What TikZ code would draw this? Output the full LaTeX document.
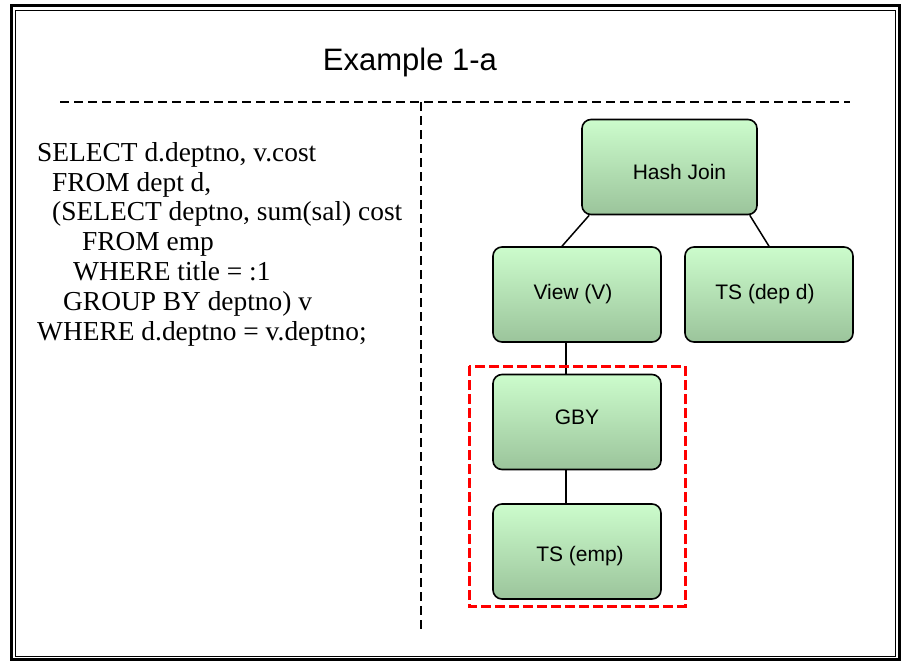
\documentclass[tikz,border=0pt]{standalone}
\usepackage{fontspec}
\setmainfont{Liberation Serif}
\setsansfont{Liberation Sans}

\definecolor{boxtop}{RGB}{204,252,204}
\definecolor{boxbot}{RGB}{155,196,155}

\tikzset{
  planop/.style={draw, line width=1.6pt, rounded corners=9pt,
    top color=boxtop, bottom color=boxbot, inner sep=0pt,
    minimum width=168pt, minimum height=95pt,
    font=\sffamily\fontsize{21}{24}\selectfont},
  treeline/.style={line width=1.5pt},
  dashrule/.style={line width=1.7pt, dash pattern=on 9pt off 5pt},
}

\begin{document}
\begin{tikzpicture}[x=1pt, y=-1pt]
  \useasboundingbox (0,0) rectangle (903,662);

  % frame
  \draw [line width=3pt] (11.5,5.5) rectangle (899.5,659.5);
  \draw [line width=1pt] (15.5,10) rectangle (895.5,656);

  \node [font=\sffamily\fontsize{31}{36}\selectfont] (title) at (410,62) {Example 1-a};

  \draw [dashrule] (60,102) -- (850,102);
  \draw [dashrule] (421,102) -- (421,632);

  % query text
  \node [anchor=north west, align=left, inner sep=0pt,
    font=\fontsize{27.4}{29.8}\selectfont] (query) at (37,142) {%
    SELECT d.deptno, v.cost\\
    \hspace*{15pt}FROM dept d,\\
    \hspace*{15pt}(SELECT deptno, sum(sal) cost\\
    \hspace*{45pt}FROM emp\\
    \hspace*{36pt}WHERE title = :1\\
    \hspace*{26pt}GROUP BY deptno) v\\
    WHERE d.deptno = v.deptno;};

  % plan tree
  \node [planop, minimum width=175pt] (hashjoin) at (669.5,167) {\hspace*{20pt}\raisebox{-5pt}[\height][\depth]{Hash Join}};
  \node [planop] (view) at (577,294.5) {View (V)\hspace*{8pt}};
  \node [planop] (tsdept) at (769,294.5) {TS (dep d)\hspace*{8pt}};
  \node [planop] (gby) at (577,422) {\raisebox{5pt}[\height][\depth]{GBY}};
  \node [planop] (tsemp) at (577,551.5) {\hspace*{6pt}\raisebox{-5pt}[\height][\depth]{TS (emp)}};

  \draw [treeline] ([xshift=8pt]hashjoin.south west) -- ([xshift=-15pt]view.north);
  \draw [treeline] ([xshift=-8pt]hashjoin.south east) -- (tsdept.north);
  \draw [treeline] ([xshift=-11pt]view.south) -- ([xshift=-11pt]gby.north);
  \draw [treeline] ([xshift=-11pt]gby.south) -- ([xshift=-11pt]tsemp.north);

  % subquery block
  \draw [red, line width=3pt, dash pattern=on 10pt off 4pt] (469,366) rectangle (685,606);
\end{tikzpicture}
\end{document}
